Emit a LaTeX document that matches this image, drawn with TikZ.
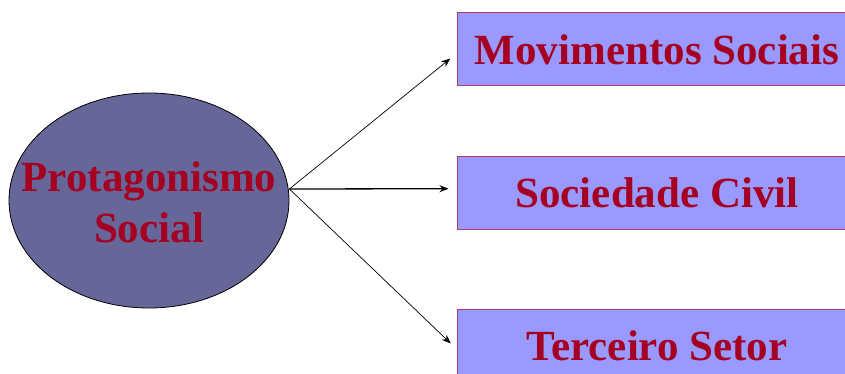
\documentclass[tikz,border=0pt]{standalone}
\usepackage{fontspec}
\setmainfont{Liberation Serif}
\usetikzlibrary{shapes.geometric,arrows.meta,positioning}
\definecolor{PSViolet}{HTML}{666699}
\definecolor{PSLilac} {HTML}{9999FF}
\definecolor{PSRed}   {HTML}{A50021}
\definecolor{PSEdge}  {HTML}{B03A6A}

\begin{document}
\begin{tikzpicture}[x=1pt,y=-1pt,
  hub/.style={ellipse,draw=black,line width=0.8pt,fill=PSViolet,
              minimum width=280pt,minimum height=215pt,inner sep=0pt},
  hubtext/.style={align=center,inner sep=0pt,
                  font=\fontsize{43}{51}\selectfont\bfseries,text=PSRed},
  field/.style={draw=PSEdge,line width=1pt,fill=PSLilac,
                minimum width=400pt,minimum height=73pt,inner sep=0pt,
                font=\fontsize{43}{50}\selectfont\bfseries,text=PSRed},
  arr/.style={-{Stealth[length=9pt,width=7pt]},line width=0.7pt,black,shorten >=8pt}
]
  \useasboundingbox (0,0) rectangle (845,374);

  % Centre
  \node[hub] (ps) at (149,200.5) {};
  \node[hubtext] (pst) at (149,202) {Protagonismo\\Social};
  \coordinate (sp) at ([yshift=11.5pt]ps.east);

  % Fields
  \node[field] (ms) at (657,49.5) {Movimentos Sociais};
  \node[field] (sc) at (657,193)  {Sociedade Civil};
  \node[field] (ts) at (657,345.5){Terceiro Setor};

  % Arrows
  \draw[arr] (sp) -- ([yshift=-4pt]ms.west);
  \draw[arr,line width=1.3pt] (sp) -- ([yshift=4.3pt]sc.west);
  \draw[arr] (sp) -- ([yshift=-3.5pt]ts.west);
\end{tikzpicture}
\end{document}
